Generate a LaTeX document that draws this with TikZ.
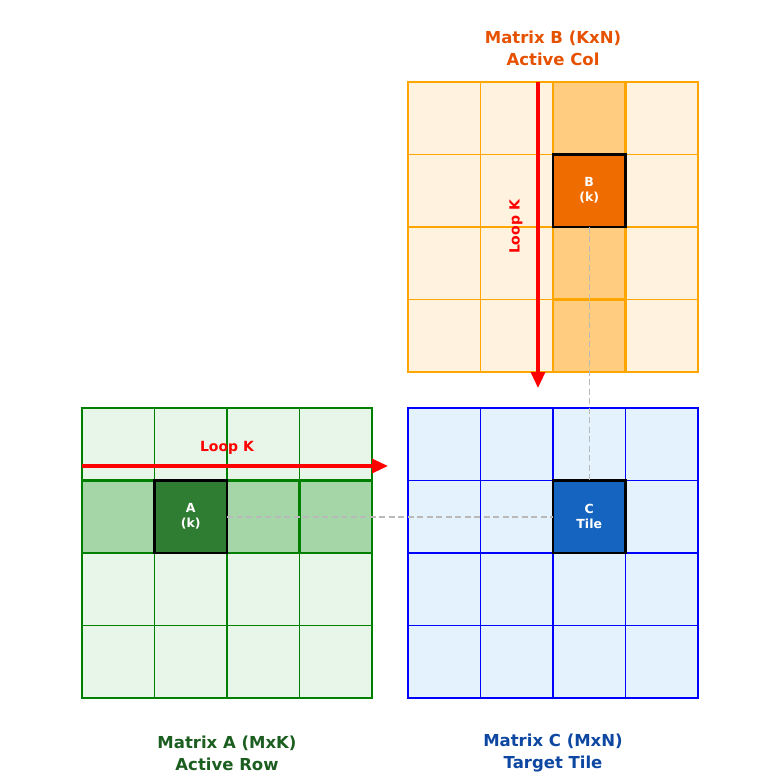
\documentclass[tikz,border=0pt]{standalone}
\usepackage{fontspec}
\setmainfont{DejaVu Sans}
\usetikzlibrary{arrows.meta,calc,positioning}

\definecolor{lightA}{HTML}{E8F5E9}
\definecolor{rowAcol}{HTML}{A5D6A7}
\definecolor{tileAcol}{HTML}{2E7D32}
\definecolor{lineA}{HTML}{008000}
\definecolor{titleAcol}{HTML}{1B5E20}
\definecolor{lightB}{HTML}{FFF3E0}
\definecolor{colBcol}{HTML}{FFCC80}
\definecolor{tileBcol}{HTML}{EF6C00}
\definecolor{lineB}{HTML}{FFA500}
\definecolor{titleBcol}{HTML}{E65100}
\definecolor{lightC}{HTML}{E3F2FD}
\definecolor{tileCcol}{HTML}{1565C0}
\definecolor{lineC}{HTML}{0000FF}
\definecolor{titleCcol}{HTML}{0D47A1}
\definecolor{loopcol}{HTML}{FF0000}

\begin{document}
\begin{tikzpicture}[
	% pixel grid, y pointing down
	x=1pt, y=-1pt,
	font=\bfseries,
	cell/.style={draw, minimum size=72.5pt, inner sep=0pt, outer sep=0pt},
	cellA/.style={cell, draw=lineA, fill=lightA, line width=1.1pt},
	cellB/.style={cell, draw=lineB, fill=lightB, line width=1.1pt},
	cellC/.style={cell, draw=lineC, fill=lightC, line width=1.1pt},
	rowA/.style={cell, draw=lineA, fill=rowAcol, line width=2.4pt},
	colB/.style={cell, draw=lineB, fill=colBcol, line width=2.4pt},
	tile/.style={cell, draw=black, line width=2.8pt, text=white, align=center,
		font=\fontsize{12.5}{15}\selectfont\bfseries},
	title/.style={align=center, font=\fontsize{16.5}{22}\selectfont\bfseries},
	link/.style={gray!55, line width=1.5pt, dash pattern=on 6pt off 3.5pt},
	loop/.style={loopcol, line width=3.2pt, -{Triangle[length=16pt,width=14pt]}},
	looplbl/.style={text=loopcol, font=\fontsize{14}{16}\selectfont\bfseries}
	]
	\useasboundingbox (0,0) rectangle (780,783);
	
	%
	% Matrix A: active row
	%
	\foreach \r in {0,...,3}{
		\foreach \c in {0,...,3}{
			\node[cellA] (a\r\c) at ({118.25+72.5*\c},{444.25+72.5*\r}) {};
		}
	}
	\foreach \c in {0,2,3}
		\node[rowA] (arow\c) at (a1\c) {};
	\node[tile, fill=tileAcol] (tA) at (a11) {A\\(k)};
	\node[title, text=titleAcol] (ttlA) at (227,753) {Matrix A (MxK)\\Active Row};
	
	%
	% Matrix B: active column
	%
	\foreach \r in {0,...,3}{
		\foreach \c in {0,...,3}{
			\node[cellB] (b\r\c) at ({444.25+72.5*\c},{118.25+72.5*\r}) {};
		}
	}
	\foreach \r in {0,2,3}
		\node[colB] (bcol\r) at (b\r2) {};
	\node[tile, fill=tileBcol] (tB) at (b12) {B\\(k)};
	\node[title, text=titleBcol] (ttlB) at (553,48) {Matrix B (KxN)\\Active Col};
	
	%
	% Matrix C: target tile
	%
	\foreach \r in {0,...,3}{
		\foreach \c in {0,...,3}{
			\node[cellC] (c\r\c) at ({444.25+72.5*\c},{444.25+72.5*\r}) {};
		}
	}
	\node[tile, fill=tileCcol] (tC) at (c12) {C\\Tile};
	\node[title, text=titleCcol] (ttlC) at (553,753) {Matrix C (MxN)\\Target Tile};
	
	% links to the C tile
	\draw[link] (tA.east) -- (tC.west);
	\draw[link] (tB.south) -- (tC.north);
	
	% loops over K
	\coordinate (kA0) at (82,466);
	\coordinate (kA1) at (388,466);
	\draw[loop] (kA0) -- (kA1);
	\node[looplbl] (lkA) at (227,448) {Loop K};
	\coordinate (kB0) at (538,82);
	\coordinate (kB1) at (538,388);
	\draw[loop] (kB0) -- (kB1);
	\node[looplbl, rotate=90] (lkB) at (516,227) {Loop K};
\end{tikzpicture}
\end{document}
